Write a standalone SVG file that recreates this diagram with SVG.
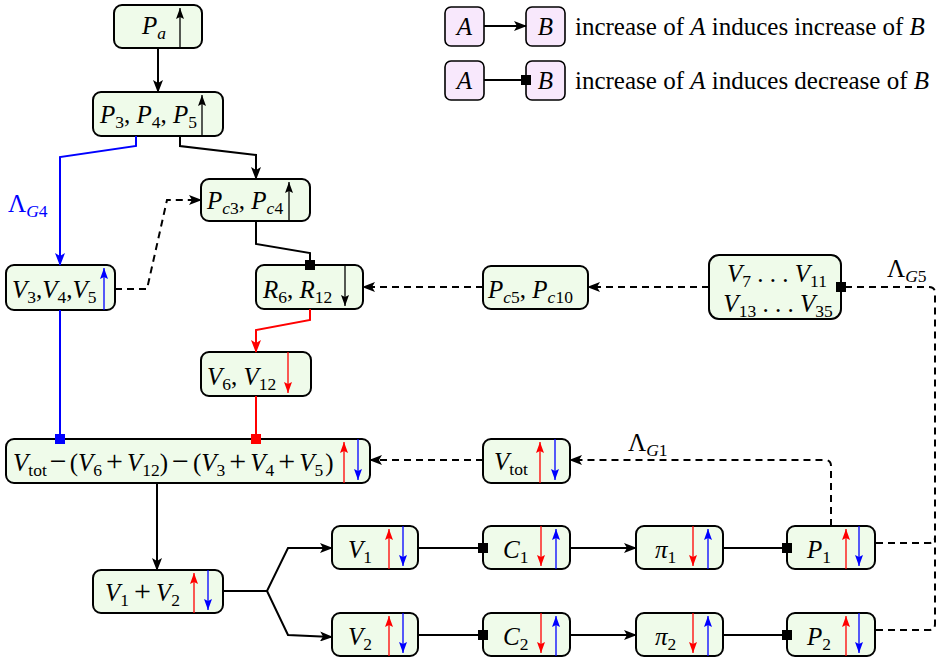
<svg xmlns="http://www.w3.org/2000/svg" width="940" height="661" viewBox="0 0 940 661">
<style>
.box{fill:#effbea;stroke:#000;stroke-width:2}
.lg{fill:#f8e8fc;stroke:#000;stroke-width:1.6}
.t{font-family:'Liberation Serif','Times New Roman','DejaVu Serif',serif;font-size:25px;fill:#000}
.i{font-style:italic}
.s{font-size:17.5px}
.op{font-size:30px}
.c{fill:none;stroke:#000;stroke-width:2}
.d{stroke-dasharray:7 5}
.b{stroke:#0000ff}
.r{stroke:#ff0000}
.ia{fill:none;stroke-width:1.3}
</style>
<defs>
<marker id="ak" markerUnits="userSpaceOnUse" markerWidth="13" markerHeight="10" refX="12" refY="5" orient="auto"><path d="M0,0 L13,5 L0,10 L3,5 z" fill="#000"/></marker>
<marker id="ab" markerUnits="userSpaceOnUse" markerWidth="13" markerHeight="10" refX="12" refY="5" orient="auto"><path d="M0,0 L13,5 L0,10 L3,5 z" fill="#0000ff"/></marker>
<marker id="ar" markerUnits="userSpaceOnUse" markerWidth="13" markerHeight="10" refX="12" refY="5" orient="auto"><path d="M0,0 L13,5 L0,10 L3,5 z" fill="#ff0000"/></marker>
<marker id="sk" markerUnits="userSpaceOnUse" markerWidth="10" markerHeight="10" refX="5" refY="5" orient="auto"><rect width="10" height="10" fill="#000"/></marker>
<marker id="sb" markerUnits="userSpaceOnUse" markerWidth="10" markerHeight="10" refX="5" refY="5" orient="auto"><rect width="10" height="10" fill="#0000ff"/></marker>
<marker id="sr" markerUnits="userSpaceOnUse" markerWidth="10" markerHeight="10" refX="5" refY="5" orient="auto"><rect width="10" height="10" fill="#ff0000"/></marker>
<marker id="tk" markerUnits="userSpaceOnUse" markerWidth="11" markerHeight="8" refX="11" refY="4" orient="auto"><path d="M0,0 L11,4 L0,8 L2,4 z" fill="#000"/></marker>
<marker id="tb" markerUnits="userSpaceOnUse" markerWidth="11" markerHeight="8" refX="11" refY="4" orient="auto"><path d="M0,0 L11,4 L0,8 L2,4 z" fill="#0000ff"/></marker>
<marker id="tr" markerUnits="userSpaceOnUse" markerWidth="11" markerHeight="8" refX="11" refY="4" orient="auto"><path d="M0,0 L11,4 L0,8 L2,4 z" fill="#ff0000"/></marker>
</defs>

<g id="legend">
<g id="legA1"><rect class="lg" x="445" y="7" width="39" height="39" rx="6"/><text class="t i" x="464.5" y="35" text-anchor="middle">A</text></g>
<g id="legB1"><rect class="lg" x="526" y="7" width="39" height="39" rx="6"/><text class="t i" x="545.5" y="35" text-anchor="middle">B</text></g>
<g id="legA2"><rect class="lg" x="445" y="61" width="39" height="39" rx="6"/><text class="t i" x="464.5" y="89" text-anchor="middle">A</text></g>
<g id="legB2"><rect class="lg" x="526" y="61" width="39" height="39" rx="6"/><text class="t i" x="545.5" y="89" text-anchor="middle">B</text></g>
<text class="t" x="575" y="35">increase of <tspan class="i">A</tspan> induces increase of <tspan class="i">B</tspan></text>
<text class="t" x="575" y="89">increase of <tspan class="i">A</tspan> induces decrease of <tspan class="i">B</tspan></text>
</g>

<g id="Pa"><rect class="box" x="114" y="5" width="88" height="43" rx="8"/>
<text class="t" x="142" y="34"><tspan class="i">P</tspan><tspan class="s i" dy="5">a</tspan></text>
<path class="ia" stroke="#000" d="M180,48 V8" marker-end="url(#tk)"/></g>

<g id="P345"><rect class="box" x="93" y="92" width="130" height="44" rx="8"/>
<text class="t" x="100" y="123"><tspan class="i">P</tspan><tspan class="s" dy="5">3</tspan><tspan dy="-5">, </tspan><tspan class="i">P</tspan><tspan class="s" dy="5">4</tspan><tspan dy="-5">, </tspan><tspan class="i">P</tspan><tspan class="s" dy="5">5</tspan></text>
<path class="ia" stroke="#000" d="M202,136 V95" marker-end="url(#tk)"/></g>

<g id="Pc34"><rect class="box" x="201" y="179" width="109" height="42" rx="8"/>
<text class="t" x="207" y="209"><tspan class="i">P</tspan><tspan class="s i" dy="5">c</tspan><tspan class="s">3</tspan><tspan dy="-5">, </tspan><tspan class="i">P</tspan><tspan class="s i" dy="5">c</tspan><tspan class="s">4</tspan></text>
<path class="ia" stroke="#000" d="M289,221 V182" marker-end="url(#tk)"/></g>

<g id="V345"><rect class="box" x="6" y="265" width="109" height="45" rx="8"/>
<text class="t" x="12" y="298"><tspan class="i">V</tspan><tspan class="s" dy="5">3</tspan><tspan dy="-5">,</tspan><tspan class="i">V</tspan><tspan class="s" dy="5">4</tspan><tspan dy="-5">,</tspan><tspan class="i">V</tspan><tspan class="s" dy="5">5</tspan></text>
<path class="ia" stroke="#0000ff" d="M104,310 V268" marker-end="url(#tb)"/></g>

<g id="R612"><rect class="box" x="256" y="265" width="107" height="44" rx="8"/>
<text class="t" x="263" y="298"><tspan class="i">R</tspan><tspan class="s" dy="5">6</tspan><tspan dy="-5">, </tspan><tspan class="i">R</tspan><tspan class="s" dy="5">12</tspan></text>
<path class="ia" stroke="#000" d="M345,265 V306" marker-end="url(#tk)"/></g>

<g id="V612"><rect class="box" x="201" y="352" width="110" height="44" rx="8"/>
<text class="t" x="207" y="385"><tspan class="i">V</tspan><tspan class="s" dy="5">6</tspan><tspan dy="-5">, </tspan><tspan class="i">V</tspan><tspan class="s" dy="5">12</tspan></text>
<path class="ia" stroke="#ff0000" d="M288,352 V393" marker-end="url(#tr)"/></g>

<g id="Vbig"><rect class="box" x="6" y="439" width="364" height="44" rx="8"/>
<text class="t" x="13" y="471"><tspan class="i">V</tspan><tspan class="s" dy="5">tot</tspan><tspan class="op" dy="-5" dx="3">−</tspan><tspan dx="3">(</tspan><tspan class="i">V</tspan><tspan class="s" dy="5">6</tspan><tspan class="op" dy="-5" dx="4">+</tspan><tspan class="i" dx="4">V</tspan><tspan class="s" dy="5">12</tspan><tspan dy="-5">)</tspan><tspan class="op" dx="4">−</tspan><tspan dx="4">(</tspan><tspan class="i">V</tspan><tspan class="s" dy="5">3</tspan><tspan class="op" dy="-5" dx="4">+</tspan><tspan class="i" dx="4">V</tspan><tspan class="s" dy="5">4</tspan><tspan class="op" dy="-5" dx="4">+</tspan><tspan class="i" dx="4">V</tspan><tspan class="s" dy="5">5</tspan><tspan dy="-5" dx="2">)</tspan></text>
<path class="ia" stroke="#ff0000" d="M344,483 V442" marker-end="url(#tr)"/>
<path class="ia" stroke="#0000ff" d="M358,439 V480" marker-end="url(#tb)"/></g>

<g id="Pc510"><rect class="box" x="483" y="266" width="105" height="43" rx="8"/>
<text class="t" x="488" y="298"><tspan class="i">P</tspan><tspan class="s i" dy="5">c</tspan><tspan class="s">5</tspan><tspan dy="-5">, </tspan><tspan class="i">P</tspan><tspan class="s i" dy="5">c</tspan><tspan class="s">10</tspan></text></g>

<g id="V735"><rect class="box" x="709" y="255" width="132" height="64" rx="10"/>
<text class="t" x="777" y="282" text-anchor="middle"><tspan class="i">V</tspan><tspan class="s" dy="5">7</tspan><tspan dy="-5"> . . . </tspan><tspan class="i">V</tspan><tspan class="s" dy="5">11</tspan></text>
<text class="t" x="778" y="312" text-anchor="middle"><tspan class="i">V</tspan><tspan class="s" dy="5">13</tspan><tspan dy="-5"> . . . </tspan><tspan class="i">V</tspan><tspan class="s" dy="5">35</tspan></text></g>

<g id="Vtot"><rect class="box" x="483" y="439" width="87" height="44" rx="8"/>
<text class="t" x="494" y="470"><tspan class="i">V</tspan><tspan class="s" dy="5">tot</tspan></text>
<path class="ia" stroke="#ff0000" d="M540,483 V442" marker-end="url(#tr)"/>
<path class="ia" stroke="#0000ff" d="M555,439 V480" marker-end="url(#tb)"/></g>

<g id="V1pV2"><rect class="box" x="93" y="570" width="130" height="43" rx="8"/>
<text class="t" x="105" y="601"><tspan class="i">V</tspan><tspan class="s" dy="5">1</tspan><tspan class="op" dy="-5" dx="5">+</tspan><tspan class="i" dx="5">V</tspan><tspan class="s" dy="5">2</tspan></text>
<path class="ia" stroke="#ff0000" d="M194,613 V573" marker-end="url(#tr)"/>
<path class="ia" stroke="#0000ff" d="M208,570 V610" marker-end="url(#tb)"/></g>

<g id="V1"><rect class="box" x="332" y="526" width="86" height="43" rx="8"/>
<text class="t" x="348" y="558"><tspan class="i">V</tspan><tspan class="s" dy="5">1</tspan></text>
<path class="ia" stroke="#ff0000" d="M389,569 V529" marker-end="url(#tr)"/>
<path class="ia" stroke="#0000ff" d="M403,526 V566" marker-end="url(#tb)"/></g>

<g id="V2"><rect class="box" x="332" y="613" width="86" height="43" rx="8"/>
<text class="t" x="348" y="645"><tspan class="i">V</tspan><tspan class="s" dy="5">2</tspan></text>
<path class="ia" stroke="#ff0000" d="M389,656 V616" marker-end="url(#tr)"/>
<path class="ia" stroke="#0000ff" d="M403,613 V653" marker-end="url(#tb)"/></g>

<g id="C1"><rect class="box" x="483" y="526" width="87" height="43" rx="8"/>
<text class="t" x="503" y="558"><tspan class="i">C</tspan><tspan class="s" dy="5">1</tspan></text>
<path class="ia" stroke="#ff0000" d="M541,526 V566" marker-end="url(#tr)"/>
<path class="ia" stroke="#0000ff" d="M556,569 V529" marker-end="url(#tb)"/></g>

<g id="C2"><rect class="box" x="483" y="613" width="87" height="43" rx="8"/>
<text class="t" x="503" y="645"><tspan class="i">C</tspan><tspan class="s" dy="5">2</tspan></text>
<path class="ia" stroke="#ff0000" d="M541,613 V653" marker-end="url(#tr)"/>
<path class="ia" stroke="#0000ff" d="M556,656 V616" marker-end="url(#tb)"/></g>

<g id="pi1"><rect class="box" x="636" y="526" width="87" height="43" rx="8"/>
<text class="t" x="655" y="558"><tspan class="i">π</tspan><tspan class="s" dy="5">1</tspan></text>
<path class="ia" stroke="#ff0000" d="M693,526 V566" marker-end="url(#tr)"/>
<path class="ia" stroke="#0000ff" d="M708,569 V529" marker-end="url(#tb)"/></g>

<g id="pi2"><rect class="box" x="636" y="613" width="87" height="43" rx="8"/>
<text class="t" x="655" y="645"><tspan class="i">π</tspan><tspan class="s" dy="5">2</tspan></text>
<path class="ia" stroke="#ff0000" d="M693,613 V653" marker-end="url(#tr)"/>
<path class="ia" stroke="#0000ff" d="M708,656 V616" marker-end="url(#tb)"/></g>

<g id="P1"><rect class="box" x="787" y="526" width="88" height="43" rx="8"/>
<text class="t" x="807" y="558"><tspan class="i">P</tspan><tspan class="s" dy="5">1</tspan></text>
<path class="ia" stroke="#ff0000" d="M846,569 V529" marker-end="url(#tr)"/>
<path class="ia" stroke="#0000ff" d="M859,526 V566" marker-end="url(#tb)"/></g>

<g id="P2"><rect class="box" x="787" y="613" width="88" height="43" rx="8"/>
<text class="t" x="807" y="645"><tspan class="i">P</tspan><tspan class="s" dy="5">2</tspan></text>
<path class="ia" stroke="#ff0000" d="M846,656 V616" marker-end="url(#tr)"/>
<path class="ia" stroke="#0000ff" d="M859,613 V653" marker-end="url(#tb)"/></g>

<g id="labels">
<text class="t" x="8" y="212" style="fill:#0000ff">Λ<tspan class="s i" dy="5">G</tspan><tspan class="s">4</tspan></text>
<text class="t" x="628" y="451">Λ<tspan class="s i" dy="5">G</tspan><tspan class="s">1</tspan></text>
<text class="t" x="887" y="277">Λ<tspan class="s i" dy="5">G</tspan><tspan class="s">5</tspan></text>
</g>

<g id="connectors">
<path class="c" d="M158,48 V92" marker-end="url(#ak)"/>
<path class="c" d="M180,136 V146 L256,155 V179" marker-end="url(#ak)"/>
<path class="c b" d="M136,136 V146 L60,157 V265" marker-end="url(#ab)"/>
<path class="c d" d="M115,289 H147 L167,200 H201" marker-end="url(#ak)"/>
<path class="c" d="M256,221 V244 L310,253 V265" marker-end="url(#sk)"/>
<path class="c r" d="M310,309 V320 L256,330 V352" marker-end="url(#ar)"/>
<path class="c r" d="M256,396 V439" marker-end="url(#sr)"/>
<path class="c b" d="M60,310 V439" marker-end="url(#sb)"/>
<path class="c d" d="M709,287 H588" marker-end="url(#ak)"/>
<path class="c d" d="M483,287 H363" marker-end="url(#ak)"/>
<path class="c d" d="M876,630 H929 Q935,630 935,624 V293 Q935,287 929,287 H841" marker-end="url(#sk)"/>
<path class="c d" d="M876,543 H929 Q935,543 935,537"/>
<path class="c d" d="M831,526 V466 Q831,460 825,460 H570" marker-end="url(#ak)"/>
<path class="c d" d="M483,460 H370" marker-end="url(#ak)"/>
<path class="c" d="M157,483 V570" marker-end="url(#ak)"/>
<path class="c" d="M223,591 H267 L288,548 H332" marker-end="url(#ak)"/>
<path class="c" d="M267,591 L288,635 L332,637" marker-end="url(#ak)"/>
<path class="c" d="M418,548 H483" marker-end="url(#sk)"/>
<path class="c" d="M570,548 H636" marker-end="url(#ak)"/>
<path class="c" d="M723,548 H787" marker-end="url(#sk)"/>
<path class="c" d="M418,635 H483" marker-end="url(#sk)"/>
<path class="c" d="M570,635 H636" marker-end="url(#ak)"/>
<path class="c" d="M723,635 H787" marker-end="url(#sk)"/>
<path class="c" d="M484,26 H526" marker-end="url(#ak)"/>
<path class="c" d="M484,80 H526" marker-end="url(#sk)"/>
</g>
</svg>
